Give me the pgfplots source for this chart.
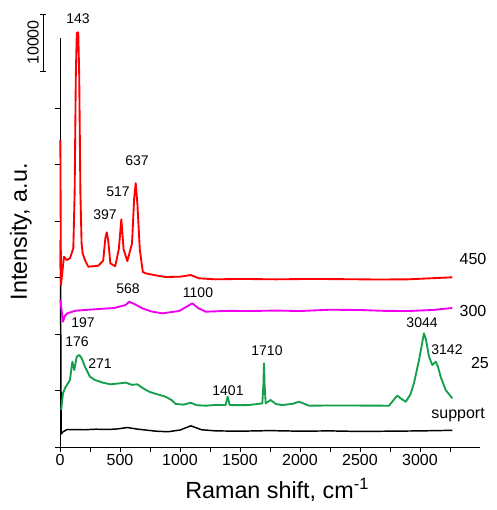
\documentclass[border=0pt]{standalone}
\usepackage{fontspec}
\setmainfont{Liberation Sans}
\usepackage{pgfplots}
\pgfplotsset{compat=1.18}
\definecolor{cred}{RGB}{255,0,0}
\definecolor{cmag}{RGB}{240,0,240}
\definecolor{cgreen}{RGB}{20,160,75}

\begin{document}
\begin{tikzpicture}
  \begin{axis}[
      at={(0,0)}, anchor=south west,
      scale only axis,
      width=315pt, height=306.75pt,
      xmin=0, xmax=3500, ymin=0, ymax=72400,
      axis lines*=left,
      axis line style={-, line width=0.6pt},
      xtick={0,500,...,3000},
      minor xtick={250,750,...,3250},
      ytick={0,10000,...,60000},
      yticklabels={},
      tick align=outside,
      major tick length=4pt, minor tick length=4pt,
      tick style={line width=0.6pt, black},
      scaled x ticks=false, scaled y ticks=false,
      /pgf/number format/assume math mode=true,
      /pgf/number format/1000 sep={},
      xticklabel style={font=\fontsize{12}{14}\selectfont, yshift=2pt},
      xlabel={Raman shift, cm\textsuperscript{-1}},
      ylabel={Intensity, a.u.},
      xlabel style={font=\fontsize{17.5}{20}\selectfont, at={(axis description cs:0.517,-0.105)}, anchor=center},
      ylabel style={font=\fontsize{17.5}{20}\selectfont, at={(axis description cs:-0.093,0.526)}, anchor=center},
      clip=false,
      every axis plot/.append style={line width=1.4pt, line join=round},
    ]
    % support
    \addplot[black, line width=1.1pt] coordinates {
      (3,36600) (10,2300) (25,2700) (60,3100) (200,3050) (300,3150) (400,3100) (480,3200)
      (560,3450) (650,3150) (800,2800) (900,2700) (1000,3000) (1090,3750)
      (1180,3050) (1300,2850) (1500,2800) (1750,2900) (2000,2800) (2250,2850)
      (2500,2750) (2750,2800) (3000,2850) (3270,2950)};
    % 25
    \addplot[cgreen] coordinates {
      (10,6550) (25,9500) (42,10440) (83,11860) (103,15100) (119,13630) (139,15990)
      (161,16280) (181,15700) (208,14210) (250,12440) (292,11860) (358,11380)
      (420,11100) (500,11270) (547,11400) (600,11000) (644,11100) (700,10300) (742,9790)
      (800,9400) (880,8900) (930,8300) (964,7610) (1030,7500) (1089,7830) (1140,7400)
      (1214,7310) (1300,7450) (1380,7430) (1397,8900)
      (1414,7430) (1500,7400) (1575,7430) (1640,7600) (1686,7730) (1695,11000) (1700,14810) (1705,11000)
      (1714,7730) (1755,8320) (1800,7600) (1853,7430) (1940,7650) (1992,8020) (2075,7310) (2250,7350) (2400,7350)
      (2600,7320) (2742,7310) (2790,8600) (2811,9080) (2840,8600) (2881,8020) (2920,9300) (2950,11330) (2992,15400) (3033,20120)
      (3050,19000) (3075,15980) (3103,14510) (3131,15100) (3150,14200) (3172,12440) (3214,10090) (3269,8620)};
    % 300
    \addplot[cmag] coordinates {
      (3,26020) (25,22180) (40,23190) (61,23660) (130,24130) (325,24430)
      (450,24600) (547,25130) (575,25720) (620,25310) (686,24550) (760,24000) (853,23660)
      (992,24070) (1060,24900) (1103,25430) (1150,24600) (1214,23950) (1400,24100) (1575,24070) (1800,24150) (2000,24070)
      (2250,24300) (2500,24250) (2700,24100) (2900,24070) (3100,24250) (3269,24600)};
    % 450
    \addplot[cred] coordinates {
      (3,54340) (8,28670) (33,33680) (56,33100) (83,33400) (111,35170)
      (122,45000) (132,66000) (140,73300) (152,73400) (160,66000) (170,45000)
      (180,36000) (189,34280) (208,33100) (236,31910) (320,32090) (360,33000)
      (378,37000) (390,38000) (402,36500) (420,32500) (460,32000) (490,35000)
      (511,40300) (530,35000) (561,32900) (600,36000) (618,44000) (631,46700)
      (645,43000) (665,35000) (690,31000) (714,30740) (783,30440) (880,30090)
      (1005,30150) (1089,30440) (1158,29860) (1297,29680) (1500,29750) (1800,29680)
      (2100,29750) (2400,29700) (2650,29650) (2900,29680) (3269,30040)};

    % peak labels
    \begin{scope}[font=\fontsize{10.5}{12}\selectfont]
      \node at (axis cs:150,75900) {143};
      \node at (axis cs:642,50620) {637};
      \node at (axis cs:483,45130) {517};
      \node at (axis cs:375,41060) {397};
      \node at (axis cs:567,27970) {568};
      \node at (axis cs:1150,27260) {1100};
      \node at (axis cs:192,21950) {197};
      \node at (axis cs:142,18590) {176};
      \node at (axis cs:333,14690) {271};
      \node at (axis cs:1400,9910) {1401};
      \node at (axis cs:1725,16990) {1710};
      \node at (axis cs:3017,21950) {3044};
      \node at (axis cs:3225,17170) {3142};
    \end{scope}
    \begin{scope}[font=\fontsize{12}{14}\selectfont]
      \node at (axis cs:3442,33280) {450};
      \node at (axis cs:3442,24070) {300};
      \node at (axis cs:3500,14870) {25};
      \node at (axis cs:3317,5660) {support};
    \end{scope}
    % scale bar
    \draw[line width=0.6pt] (axis cs:-142,66550) -- (axis cs:-142,76640);
    \draw[line width=0.6pt] ([xshift=-2.2pt]axis cs:-142,66550) -- ([xshift=2.2pt]axis cs:-142,66550);
    \draw[line width=0.6pt] ([xshift=-2.2pt]axis cs:-142,76640) -- ([xshift=2.2pt]axis cs:-142,76640);
    \node[rotate=90, font=\fontsize{12}{14}\selectfont] at (axis cs:-225,71600) {10000};
  \end{axis}
  \path[use as bounding box] (-45pt,-47.25pt) rectangle (327pt,335.25pt);
\end{tikzpicture}
\end{document}
